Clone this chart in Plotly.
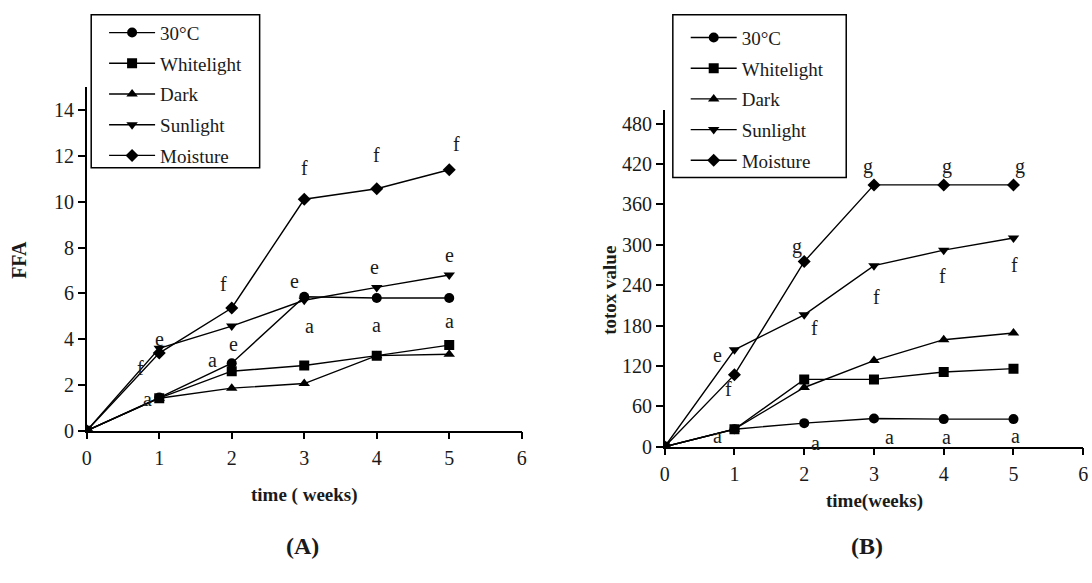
import plotly.graph_objects as go

weeks = [0, 1, 2, 3, 4, 5]
series_names = ["30°C", "Whitelight", "Dark", "Sunlight", "Moisture"]
symbols = ["circle", "square", "triangle-up", "triangle-down", "diamond"]

# Panel A: FFA
ffa_30c = [0, 1.45, 2.95, 5.85, 5.8, 5.8]
ffa_white = [0, 1.42, 2.6, 2.85, 3.28, 3.74]
ffa_dark = [0, 1.42, 1.86, 2.06, 3.28, 3.34]
ffa_sun = [0, 3.6, 4.57, 5.7, 6.26, 6.8]
ffa_moist = [0, 3.39, 5.36, 10.11, 10.57, 11.4]

# Panel B: totox value
totox_30c = [0, 26, 35, 42, 41, 41]
totox_white = [0, 26, 100, 100, 111, 116]
totox_dark = [0, 26, 88, 128, 159, 169]
totox_sun = [0, 144, 196, 269, 292, 310]
totox_moist = [0, 107, 275, 389, 389, 389]

# significance letters (label, x, y)
letters_a_text = ["f", "e", "a", "f", "e", "a", "e", "f", "a", "f", "e", "a", "f", "e", "a"]
letters_a_x = [0.74, 1.0, 0.84, 1.88, 2.03, 1.74, 2.86, 3.0, 3.07, 4.0, 3.97, 4.0, 5.1, 5.0, 5.0]
letters_a_y = [2.9, 4.2, 1.55, 6.6, 3.95, 3.25, 6.7, 11.67, 4.76, 12.2, 7.33, 4.8, 12.7, 7.84, 4.97]

letters_b_text = ["e", "f", "a", "g", "f", "a", "g", "f", "a", "g", "f", "a", "g", "f", "a"]
letters_b_x = [0.76, 0.91, 0.76, 1.89, 2.15, 2.16, 2.92, 3.03, 3.22, 4.04, 3.98, 4.04, 5.09, 5.02, 5.03]
letters_b_y = [142, 91, 22, 304, 183, 11, 423, 229, 20, 423, 260, 20, 423, 276, 22]

FONT = "Liberation Serif, Times New Roman, serif"
TXT = "#1a1a1a"
W, H = 1092, 583

fig = go.Figure()

ffa_sets = [ffa_30c, ffa_white, ffa_dark, ffa_sun, ffa_moist]
totox_sets = [totox_30c, totox_white, totox_dark, totox_sun, totox_moist]

for i, (name, sym, vals) in enumerate(zip(series_names, symbols, ffa_sets)):
    fig.add_trace(go.Scatter(
        x=weeks, y=vals, name=name, mode="lines+markers",
        line=dict(color="black", width=1.4),
        marker=dict(symbol=sym, size=10, color="black"),
        legendgroup="a%d" % i,
        xaxis="x", yaxis="y", legend="legend"))

for i, (name, sym, vals) in enumerate(zip(series_names, symbols, totox_sets)):
    fig.add_trace(go.Scatter(
        x=weeks, y=vals, name=name, mode="lines+markers",
        line=dict(color="black", width=1.4),
        marker=dict(symbol=sym, size=10, color="black"),
        legendgroup="b%d" % i,
        xaxis="x2", yaxis="y2", legend="legend2"))

annotations = []
for t, x, y in zip(letters_a_text, letters_a_x, letters_a_y):
    annotations.append(dict(text=t, x=x, y=y, xref="x", yref="y", showarrow=False,
                            yshift=-4, font=dict(family=FONT, size=20, color=TXT)))
for t, x, y in zip(letters_b_text, letters_b_x, letters_b_y):
    annotations.append(dict(text=t, x=x, y=y, xref="x2", yref="y2", showarrow=False,
                            yshift=-4, font=dict(family=FONT, size=20, color=TXT)))

def paper_label(text, px, py, size, angle=0):
    return dict(text=text, x=px / W, y=(H - py) / H, xref="paper", yref="paper",
                xanchor="center", yanchor="middle", showarrow=False, textangle=angle,
                font=dict(family=FONT, size=size, color=TXT))

annotations += [
    paper_label("<b>time ( weeks)</b>", 302, 505, 19),
    paper_label("<b>FFA</b>", 14, 265, 20, -90),
    paper_label("<b>time(weeks)</b>", 878, 511, 19),
    paper_label("<b>totox value</b>", 610, 296, 19, -90),
    paper_label("<b>(A)</b>", 300, 557, 24),
    paper_label("<b>(B)</b>", 870, 557, 24),
]

axis_common = dict(
    showline=True, linecolor="black", linewidth=1.5, mirror=False,
    ticks="outside", ticklen=7, tickwidth=1.5, tickcolor="black",
    showgrid=False, zeroline=False,
    tickfont=dict(family=FONT, size=20, color=TXT),
)

legend_common = dict(xanchor="left", yanchor="top", borderwidth=0,
                     bgcolor="rgba(0,0,0,0)",
                     font=dict(family=FONT, size=19, color=TXT),
                     tracegroupgap=3, itemwidth=46)

shapes = [
    dict(type="rect", xref="paper", yref="paper", x0=87 / W, x1=257 / W,
         y0=(H - 171) / H, y1=(H - 15) / H, line=dict(color="black", width=1.5),
         fillcolor="white", layer="below"),
    dict(type="rect", xref="paper", yref="paper", x0=674 / W, x1=849 / W,
         y0=(H - 181) / H, y1=(H - 15) / H, line=dict(color="black", width=1.5),
         fillcolor="white", layer="below"),
]

fig.update_layout(
    width=W, height=H,
    margin=dict(l=0, r=0, t=0, b=0),
    paper_bgcolor="white", plot_bgcolor="rgba(0,0,0,0)",
    font=dict(family=FONT, color=TXT),
    xaxis=dict(domain=[82.5 / W, 521.5 / W], range=[0, 6], dtick=1, anchor="y",
               ticklabelstandoff=2, **axis_common),
    yaxis=dict(domain=[(H - 439) / H, (H - 89) / H], range=[0, 15],
               tickvals=[0, 2, 4, 6, 8, 10, 12, 14], anchor="x",
               **axis_common),
    xaxis2=dict(domain=[665.8 / W, 1088.2 / W], range=[0, 6], dtick=1, anchor="y2",
                ticklabelstandoff=2, **axis_common),
    yaxis2=dict(domain=[(H - 455.3) / H, (H - 112.3) / H], range=[0, 500],
                tickvals=[0, 60, 120, 180, 240, 300, 360, 420, 480], anchor="x2",
                **axis_common),
    legend=dict(x=100 / W, y=(H - 14) / H, **legend_common),
    legend2=dict(x=687 / W, y=(H - 19) / H, **legend_common),
    annotations=annotations,
    shapes=shapes,
    showlegend=True,
)

fig.write_html("out.html")
